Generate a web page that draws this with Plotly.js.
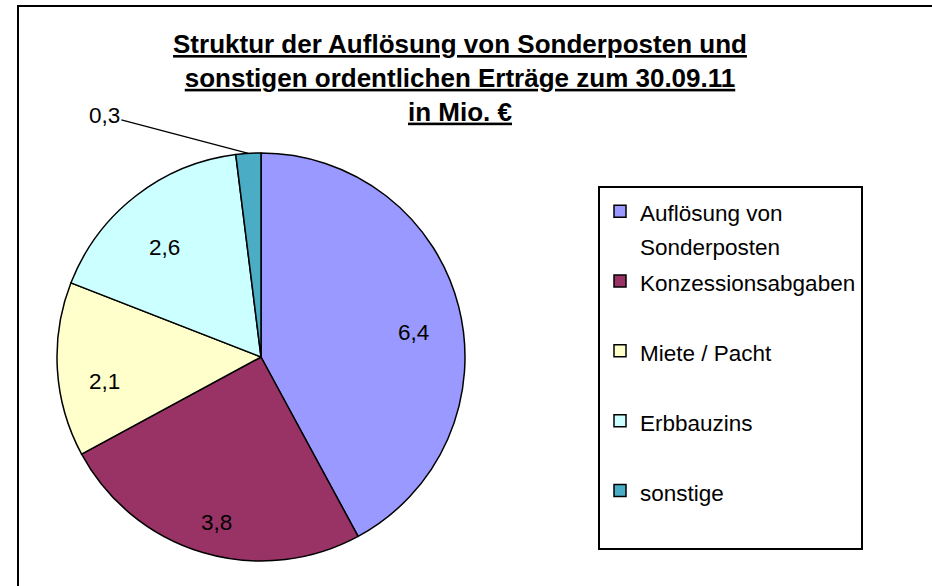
<!DOCTYPE html>
<html>
<head>
<meta charset="utf-8">
<script src="https://cdn.plot.ly/plotly-3.0.1.min.js"></script>
<style>html,body{margin:0;padding:0;background:#fff;}#chart{width:932px;height:586px;}</style>
</head>
<body>
<div id="chart"></div>
<script>
// ---- data ----
var categories = ['Auflösung von Sonderposten', 'Konzessionsabgaben', 'Miete / Pacht', 'Erbbauzins', 'sonstige'];
var legendLines = [['Auflösung von', 'Sonderposten'], ['Konzessionsabgaben'], ['Miete / Pacht'], ['Erbbauzins'], ['sonstige']];
var values = [6.4, 3.8, 2.1, 2.6, 0.3];
var colors = ['#9999FF', '#993366', '#FFFFCC', '#CCFFFF', '#4BACC6'];
var titleLines = ['Struktur der Auflösung von Sonderposten und', 'sonstigen ordentlichen Erträge zum 30.09.11', 'in Mio. €'];

// ---- layout constants ----
var W = 932, H = 586;
var FONT = 'Liberation Sans, Arial, sans-serif';
var pieLeft = 57, pieTop = 153, pieSize = 408;
var cxPx = pieLeft + pieSize / 2, cyPx = pieTop + pieSize / 2, rPx = pieSize / 2;
var visFont = 22.5;

function fmt(v) { return v.toFixed(1).replace('.', ','); }

var legendText = legendLines.map(function (lines) {
  var parts = lines.map(function (l) { return '<span style="font-size:' + visFont + 'px">' + l + '</span>'; });
  if (parts.length < 2) parts.push('\u00a0');
  return parts.join('<br>');
});

var trace = {
  type: 'pie',
  labels: legendText,
  values: values,
  sort: false,
  direction: 'clockwise',
  rotation: 0,
  textinfo: 'none',
  hoverinfo: 'none',
  marker: { colors: colors, line: { color: '#000', width: 1.5 } },
  domain: { x: [pieLeft / W, (pieLeft + pieSize) / W], y: [1 - (pieTop + pieSize) / H, 1 - pieTop / H] }
};

// value labels computed from the data
var total = values.reduce(function (a, b) { return a + b; }, 0);
var annotations = [];
var cum = 0;
values.forEach(function (v, i) {
  var mid = (cum + v / 2) / total * 2 * Math.PI;
  cum += v;
  var frac = v / total;
  if (frac > 0.05) {
    var k = 0.77;
    annotations.push({
      xref: 'paper', yref: 'paper',
      x: (cxPx + rPx * k * Math.sin(mid)) / W,
      y: 1 - (cyPx - rPx * k * Math.cos(mid)) / H,
      xanchor: 'center', yanchor: 'top',
      text: fmt(v), showarrow: false,
      font: { family: FONT, size: visFont, color: '#000' }
    });
  } else {
    annotations.push({
      xref: 'paper', yref: 'paper',
      x: (cxPx + rPx * Math.sin(mid)) / W,
      y: 1 - (cyPx - rPx * Math.cos(mid)) / H,
      text: fmt(v), showarrow: true, arrowhead: 0, arrowwidth: 1.3, arrowcolor: '#000',
      ax: -144, ay: -38, standoff: 0,
      font: { family: FONT, size: visFont, color: '#000' }
    });
  }
});

var layout = {
  width: W, height: H,
  margin: { l: 0, r: 0, t: 0, b: 0 },
  paper_bgcolor: '#fff',
  showlegend: true,
  title: {
    text: titleLines.map(function (t) { return '<u><b>' + t + '</b></u>'; }).join('<br>'),
    font: { family: FONT, size: 26, color: '#000' },
    x: 460 / W, xanchor: 'center', xref: 'paper',
    y: 1 - 53 / H, yanchor: 'top', yref: 'paper'
  },
  legend: {
    x: 598 / W, xanchor: 'left', y: 1 - 186 / H, yanchor: 'top',
    bordercolor: '#000', borderwidth: 2, bgcolor: '#fff',
    font: { family: FONT, size: 25.7, color: '#000' },
    valign: 'top', traceorder: 'normal'
  },
  annotations: annotations,
  shapes: [{
    type: 'rect', xref: 'paper', yref: 'paper',
    x0: 18 / W, x1: 1.05, y0: -0.05, y1: 1 - 6 / H,
    line: { color: '#000', width: 2 }, fillcolor: 'rgba(0,0,0,0)', layer: 'below'
  }]
};

Plotly.newPlot('chart', [trace], layout, { displayModeBar: false, staticPlot: true });
</script>
</body>
</html>
